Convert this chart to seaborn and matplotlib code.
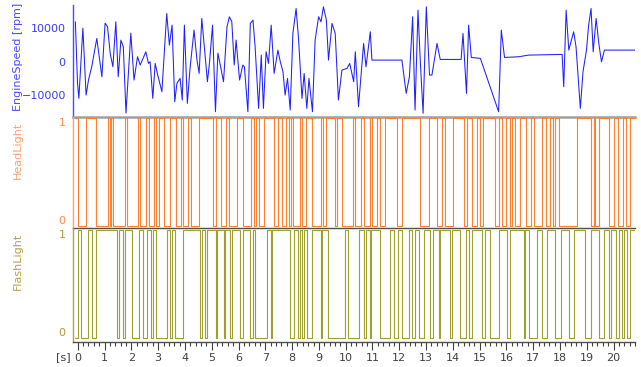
import pandas as pd
import seaborn as sns
import matplotlib.pyplot as plt
from matplotlib.ticker import MultipleLocator

# EngineSpeed samples (time in s, rpm)
time_s = [-0.09, -0.01, 0.04, 0.19, 0.31, 0.40, 0.52, 0.71, 0.90, 1.02,
          1.11, 1.21, 1.31, 1.42, 1.51, 1.61, 1.70, 1.80, 1.98, 2.10,
          2.23, 2.33, 2.54, 2.64, 2.70, 2.80, 2.89, 2.97, 3.14, 3.32,
          3.42, 3.52, 3.62, 3.70, 3.82, 3.90, 3.98, 4.09, 4.19, 4.34,
          4.45, 4.53, 4.63, 4.84, 4.92, 5.03, 5.14, 5.23, 5.32, 5.44,
          5.57, 5.66, 5.75, 5.84, 5.91, 6.04, 6.16, 6.22, 6.35, 6.44,
          6.54, 6.62, 6.75, 6.85, 6.93, 7.03, 7.12, 7.22, 7.33, 7.47,
          7.56, 7.66, 7.74, 7.83, 7.93, 8.03, 8.15, 8.24, 8.37, 8.45,
          8.55, 8.63, 8.76, 8.86, 8.99, 9.08, 9.17, 9.28, 9.36, 9.49,
          9.61, 9.73, 9.86, 10.05, 10.15, 10.30, 10.36, 10.48, 10.67, 10.76,
          10.92, 10.98, 12.10, 12.26, 12.38, 12.50, 12.59, 12.70, 12.79, 12.89,
          13.01, 13.13, 13.22, 13.41, 13.53, 14.31, 14.38, 14.51, 14.59, 14.69,
          15.03, 15.71, 15.81, 15.93, 16.46, 16.83, 18.08, 18.14, 18.23, 18.33,
          18.51, 18.60, 18.76, 18.86, 18.99, 19.07, 19.16, 19.24, 19.35, 19.45,
          19.55, 19.66, 20.80]
engine_rpm = [12000, -6400, -11000, 10100, -10000, -5500, -1500, 7000, -4500, 11600,
              10500, 2500, -1500, 12000, -4500, 6500, 4500, -15400, 8600, -5500,
              1500, -1000, 3000, -500, 0, -11000, -500, -3500, -9000, 14500,
              5000, 11000, -12000, -6500, -5000, -11500, 11000, -12500, -2000, 9500,
              500, -3500, 13000, -6000, 0, 11000, -15000, 2600, -1000, -6000,
              10500, 13500, 12000, -1000, 6500, -5500, -1000, -1500, -15000, 11500,
              12500, 4500, -14000, 2000, -14000, 3000, -500, 11000, -3500, 3500,
              0, -3000, -10000, -5000, -14500, 8500, 16000, 7000, -11000, -3500,
              -14000, -5000, -15000, 6500, 13500, 12000, 16500, 12500, 500, 11500,
              8500, -11500, -2500, -2000, -500, -6000, 3000, -13500, 5500, -1500,
              9000, 500, 500, -9500, -4500, 13500, -14500, 15500, -500, -15500,
              16500, -4000, -4000, 5500, 700, 700, 8500, -9500, 11000, 1300,
              1000, -15000, 9500, 1300, 1500, 2000, 2200, -7500, 15500, 3500,
              9000, 4500, -14000, -3000, 3500, 11000, 16000, 3000, 13000, 5500,
              0, 3500, 3500]

# HeadLight is 1 except inside these (start, end) intervals
headlight_off = [(0.00, 0.31), (0.68, 1.12), (1.19, 1.24), (1.33, 1.77), (1.83, 2.26),
                 (2.33, 2.55), (2.67, 2.85), (2.92, 3.05), (3.20, 3.45), (3.67, 3.85),
                 (3.92, 4.13), (4.23, 4.54), (5.03, 5.16), (5.34, 5.54), (5.66, 5.94),
                 (6.15, 6.46), (6.56, 6.66), (6.77, 6.97), (7.33, 7.46), (7.64, 7.77),
                 (7.87, 7.96), (8.05, 8.28), (8.37, 8.53), (8.76, 9.08), (9.17, 9.28),
                 (9.59, 9.68), (9.86, 10.27), (10.36, 10.58), (10.67, 10.89), (10.98, 11.17),
                 (11.29, 11.48), (11.92, 12.10), (12.79, 13.10), (13.41, 13.60), (13.69, 14.01),
                 (14.40, 14.53), (14.72, 14.90), (15.00, 15.13), (15.56, 15.71), (15.84, 16.00),
                 (16.12, 16.21), (16.34, 16.52), (16.74, 16.92), (17.02, 17.33), (17.46, 17.64),
                 (17.74, 17.83), (17.95, 18.64), (19.14, 19.26), (19.32, 19.45), (19.82, 20.03),
                 (20.16, 20.36), (20.48, 20.61)]

# FlashLight is 0 except inside these (start, end) intervals
flashlight_on = [(-0.01, 0.11), (0.40, 0.52), (0.68, 1.48), (1.55, 1.68), (1.77, 2.02),
                 (2.30, 2.43), (2.60, 2.73), (2.80, 2.92), (3.32, 3.45), (3.51, 3.64),
                 (3.92, 4.57), (4.63, 4.76), (4.82, 5.17), (5.21, 5.44), (5.50, 5.69),
                 (5.75, 6.06), (6.15, 6.44), (6.54, 6.63), (7.06, 7.22), (7.26, 7.93),
                 (8.09, 8.22), (8.28, 8.37), (8.46, 8.55), (8.76, 9.08), (9.11, 9.34),
                 (9.96, 10.09), (10.48, 10.67), (10.77, 10.92), (10.96, 11.29), (11.67, 11.79),
                 (11.95, 12.10), (12.38, 12.48), (12.57, 12.72), (12.91, 13.16), (13.26, 13.47),
                 (13.53, 13.91), (13.97, 14.28), (14.49, 14.62), (14.72, 15.09), (15.19, 15.40),
                 (15.71, 16.03), (16.15, 16.65), (16.68, 16.83), (17.15, 17.33), (17.52, 17.83),
                 (18.02, 18.33), (18.51, 18.95), (19.16, 19.45), (19.63, 19.82), (19.91, 20.10),
                 (20.19, 20.32), (20.38, 20.51), (20.63, 20.80)]

T_START, T_END = -0.1, 20.8


def step_frame(intervals, base):
    t, v = [T_START], [base]
    for a, b in intervals:
        t += [a, b]
        v += [1 - base, base]
    t.append(T_END)
    v.append(v[-1])
    return pd.DataFrame({"t": t, "v": v})


sns.set_style("white")
plt.rcParams["font.family"] = ["DejaVu Sans"]
plt.rcParams["font.size"] = 8

BLUE, ORANGE, OLIVE = "#2020ff", "#ff8030", "#a0a030"

fig = plt.figure(figsize=(6.41, 3.67), dpi=100)
left, width = 0.1134, 0.8772
ax1 = fig.add_axes([left, 0.682, width, 0.304])
ax2 = fig.add_axes([left, 0.378, width, 0.304])
ax3 = fig.add_axes([left, 0.068, width, 0.310])

engine = pd.DataFrame({"t": time_s, "rpm": engine_rpm})
sns.lineplot(data=engine, x="t", y="rpm", ax=ax1, color=BLUE, lw=0.75,
             estimator=None, sort=False)
sns.lineplot(data=step_frame(headlight_off, 1), x="t", y="v", ax=ax2, color=ORANGE,
             lw=0.8, drawstyle="steps-post", estimator=None, sort=False)
sns.lineplot(data=step_frame(flashlight_on, 0), x="t", y="v", ax=ax3, color=OLIVE,
             lw=0.8, drawstyle="steps-post", estimator=None, sort=False)

ax1.set_ylim(-16500, 17000)
ax2.set_ylim(-0.02, 1.015)
ax3.set_ylim(-0.037, 1.016)

panels = [(ax1, "EngineSpeed [rpm]", "#4a4aff", "#3a3aff", 0.534),
          (ax2, "HeadLight", "#ff9f6a", "#ff8a4a", 0.70),
          (ax3, "FlashLight", "#b8a040", "#a89a40", 0.708)]
for ax, label, lcol, tcol, ly in panels:
    ax.set_xlim(T_START - 0.09, T_END)
    ax.set_xlabel("")
    ax.set_ylabel(label, color=lcol, fontsize=8)
    ax.yaxis.set_label_coords(-0.088, ly)
    ax.spines["top"].set_visible(False)
    ax.spines["right"].set_visible(False)
    ax.spines["left"].set_color(lcol)
    ax.spines["left"].set_linewidth(1.0)
    ax.tick_params(axis="y", colors=lcol, labelcolor=tcol, length=3, width=0.8,
                   pad=2, labelsize=8)
    ax.patch.set_alpha(0)

ax1.set_yticks([-10000, 0, 10000])
ax1.yaxis.set_minor_locator(MultipleLocator(2000))
ax1.tick_params(axis="y", which="minor", colors="#4a4aff", length=3, width=0.8)

for ax in (ax2, ax3):
    ax.set_yticks([0, 1])
    ax.set_yticklabels(["0", "1"])
    labs = ax.get_yticklabels()
    labs[0].set_va("bottom")
    labs[1].set_va("top")

ax1.spines["bottom"].set_color("#a0a0a0")
ax1.spines["bottom"].set_linewidth(1.8)
ax2.spines["bottom"].set_color("#505050")
ax2.spines["bottom"].set_linewidth(1.0)
ax3.spines["bottom"].set_color("#505050")
ax3.spines["bottom"].set_linewidth(1.0)

for ax in (ax1, ax2):
    ax.tick_params(axis="x", bottom=False, labelbottom=False)

ax3.xaxis.set_major_locator(MultipleLocator(1))
ax3.xaxis.set_minor_locator(MultipleLocator(0.2))
ax3.tick_params(axis="x", which="major", bottom=True, length=6, width=0.8,
                colors="#404040", labelsize=8, pad=2)
ax3.tick_params(axis="x", which="minor", bottom=True, length=3, width=0.8,
                colors="#404040")
ax3.set_xticks(range(0, 21))

fig.text(63 / 641, 1 - 357 / 367, "[s]", ha="center", va="center",
         fontsize=8, color="#404040")

fig.savefig("out.png", dpi=100, facecolor="white")
